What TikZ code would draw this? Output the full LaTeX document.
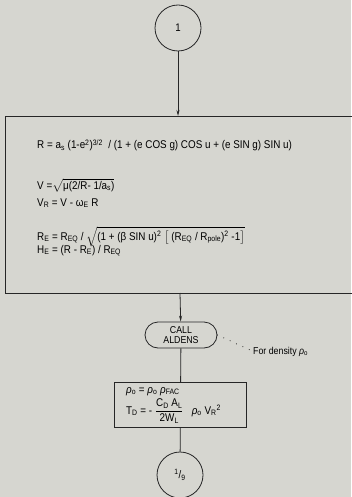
\documentclass[tikz,border=0pt]{standalone}
\usepackage{amsmath}
\usepackage{fontspec}
\setmainfont{Liberation Sans}[FakeStretch=0.88]
\usetikzlibrary{arrows.meta,shapes.misc}
\newcommand{\sbs}[1]{\textsubscript{#1}}
\newcommand{\sps}[1]{\textsuperscript{#1}}
\newcommand{\rh}{\textit{ρ}}
\definecolor{paper}{RGB}{214,214,208}
\tikzset{
  conn/.style={line width=0.8pt,draw=black!85},
  arr/.style={conn,-{Stealth[length=6pt,width=3pt]}},
  onpage/.style={circle,draw=black!85,line width=0.8pt,minimum size=46pt,inner sep=0pt,font=\fontsize{11}{12}\selectfont},
  box/.style={draw=black!85,line width=0.8pt},
  eq/.style={anchor=base west,inner sep=0pt,font=\fontsize{11.2}{13}\selectfont},
  call/.style={rounded rectangle,draw=black!85,line width=0.8pt,minimum width=74pt,minimum height=26pt,inner sep=1pt,align=center,font=\fontsize{10}{10}\selectfont},
}
\begin{document}
\begin{tikzpicture}[x=1pt,y=-1pt]
\fill[paper] (0,0) rectangle (351,497);
\useasboundingbox (0,0) rectangle (351,497);
\node[onpage] (c1) at (178,28) {1};
\node[box,minimum width=350pt,minimum height=177pt,anchor=north west,inner sep=0pt] (big) at (5,116) {};
\coordinate (bigtop) at (178,116);
\coordinate (bigbot) at (180,293);
\node[eq] (l1) at (37,149) {R = a\sbs{s} (1-e\sps{2})\sps{3/2} \ / (1 + (e COS g) COS u + (e SIN g) SIN u)};
\node[eq] (l2) at (37,189) {V =$\sqrt{\hbox{μ(2/R- 1/a\sbs{s})}}$};
\node[eq] (l3) at (37,206) {V\sbs{R} = V - ω\sbs{E} R};
\node[eq] (l4) at (37,240) {R\sbs{E} = R\sbs{EQ} / $\sqrt{\hbox{(1 + (β SIN u)\sps{2} $\bigl[$ (R\sbs{EQ} / R\sbs{pole})\sps{2} -1$\bigr]$}}$};
\node[eq] (l5) at (37,253) {H\sbs{E} = (R - R\sbs{E}) / R\sbs{EQ}};
\node[call] (ald) at (181,335) {CALL\\ALDENS};
\node[anchor=base west,inner sep=0pt,font=\fontsize{10}{11}\selectfont] (dens) at (253,354) {For density \rh\sbs{o}};
\node[box,minimum width=132pt,minimum height=45pt,anchor=north west,inner sep=0pt] (b2) at (114,382) {};
\node[eq] (m1) at (126,393) {\rh\sbs{o} = \rh\sbs{o} \rh\sbs{FAC}};
\node[eq] (m2) at (126,414) {T\sbs{D} = - $\displaystyle\frac{\hbox{C\sbs{D} A\sbs{L}}}{\hbox{2W\sbs{L}}}$ \ \ \rh\sbs{o} V\sbs{R}\sps{2}};
\node[onpage] (c2) at (180,475) {\sps{1}/\sbs{9}};
\draw[arr] (c1) -- (bigtop);
\draw[arr] (bigbot) -- (ald);
\draw[conn] (ald) -- (b2);
\draw[conn] (b2) -- (c2);
\draw[line width=1pt,line cap=round,dash pattern=on 0pt off 7pt] (ald.east) -- (dens.west);
\end{tikzpicture}
\end{document}
